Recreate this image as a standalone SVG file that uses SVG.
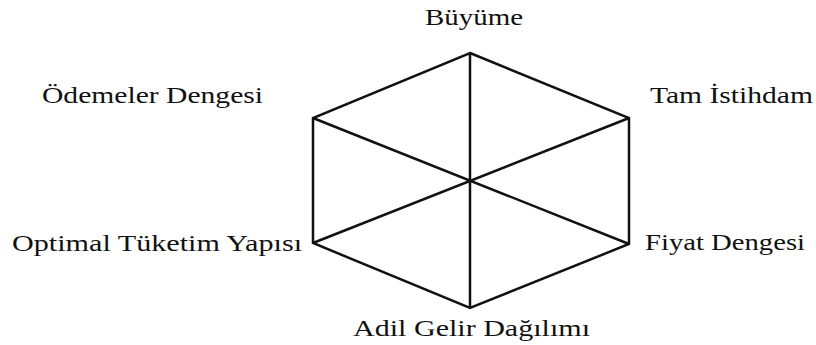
<svg xmlns="http://www.w3.org/2000/svg" width="816" height="345" viewBox="0 0 816 345">
<style>
.lbl{font-family:"Liberation Serif","DejaVu Serif",serif;font-size:24px;fill:#111}
.edge{stroke:#111;stroke-width:2.5;fill:none;stroke-linejoin:miter}
</style>
<rect width="816" height="345" fill="#fff"/>
<g id="connectors">
<polygon class="edge" points="470,53 629,118 629,244 470,308 313,243 313,118"/>
<line class="edge" x1="470" y1="53" x2="470" y2="308"/>
<line class="edge" x1="313" y1="118" x2="629" y2="244"/>
<line class="edge" x1="629" y1="118" x2="313" y2="243"/>
</g>
<g id="buyume"><text class="lbl" x="425" y="25" textLength="98" lengthAdjust="spacingAndGlyphs">Büyüme</text></g>
<g id="odemeler-dengesi"><text class="lbl" x="42" y="103" textLength="221" lengthAdjust="spacingAndGlyphs">Ödemeler Dengesi</text></g>
<g id="tam-istihdam"><text class="lbl" x="650" y="103" textLength="163" lengthAdjust="spacingAndGlyphs">Tam İstihdam</text></g>
<g id="optimal-tuketim"><text class="lbl" x="12" y="251" textLength="290" lengthAdjust="spacingAndGlyphs">Optimal Tüketim Yapısı</text></g>
<g id="fiyat-dengesi"><text class="lbl" x="645" y="250" textLength="160" lengthAdjust="spacingAndGlyphs">Fiyat Dengesi</text></g>
<g id="adil-gelir"><text class="lbl" x="353" y="336" textLength="237" lengthAdjust="spacingAndGlyphs">Adil Gelir Dağılımı</text></g>
</svg>
